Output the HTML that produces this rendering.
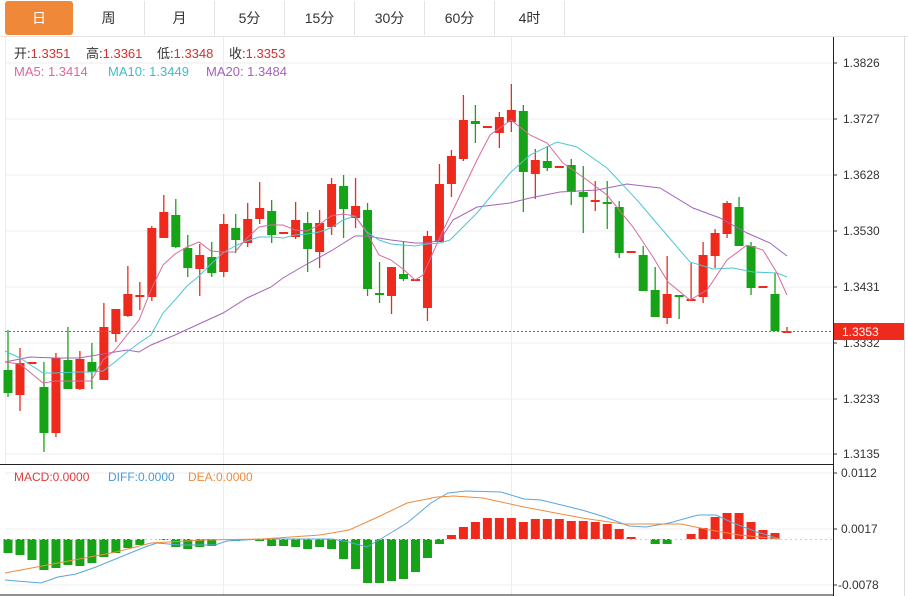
<!DOCTYPE html>
<html><head><meta charset="utf-8">
<style>
body{margin:0;background:#fff;width:908px;height:596px;overflow:hidden;font-family:"Liberation Sans","Noto Sans CJK SC",sans-serif;}
#tabs{position:absolute;left:0;top:0;height:36px;width:908px;}
.tab{position:absolute;top:1px;height:34px;line-height:34px;text-align:center;font-size:14px;color:#333;border-right:1px solid #e3e3e3;box-sizing:border-box}
.on{background:#f0883a;color:#fff;border-radius:3px;border:none}
svg{position:absolute;left:0;top:0}
</style></head><body>
<div id="tabs">
<div class="tab on" style="left:5px;width:68px">日</div>
<div class="tab" style="left:73px;width:72px">周</div>
<div class="tab" style="left:145px;width:70px">月</div>
<div class="tab" style="left:215px;width:70px">5分</div>
<div class="tab" style="left:285px;width:70px">15分</div>
<div class="tab" style="left:355px;width:70px">30分</div>
<div class="tab" style="left:425px;width:70px">60分</div>
<div class="tab" style="left:495px;width:70px">4时</div>
</div>
<svg id="s" width="908" height="596" xmlns="http://www.w3.org/2000/svg" font-family="Liberation Sans, Noto Sans CJK SC, sans-serif">
<line x1="0" y1="36.5" x2="908" y2="36.5" stroke="#e3e3e3"/>
<line x1="904.5" y1="36" x2="904.5" y2="596" stroke="#ddd"/>
<g stroke="#ececec">
<line x1="5" y1="63" x2="833" y2="63"/><line x1="5" y1="119" x2="833" y2="119"/><line x1="5" y1="175" x2="833" y2="175"/><line x1="5" y1="231" x2="833" y2="231"/><line x1="5" y1="287" x2="833" y2="287"/><line x1="5" y1="343" x2="833" y2="343"/><line x1="5" y1="399" x2="833" y2="399"/><line x1="5" y1="454" x2="833" y2="454"/>
<line x1="5" y1="473" x2="833" y2="473"/><line x1="5" y1="529" x2="833" y2="529"/><line x1="5" y1="585" x2="833" y2="585"/>
<line x1="223.5" y1="37" x2="223.5" y2="595"/><line x1="511.5" y1="37" x2="511.5" y2="595"/>
<line x1="5.5" y1="37" x2="5.5" y2="465"/>
</g>
<g id="c"></g>
<g id="m"></g>
<line x1="5" y1="331.5" x2="833" y2="331.5" stroke="#e8463c" stroke-dasharray="2,2"/>
<polyline fill="none" stroke="#a463ba" stroke-width="1" points="5,362 30,357 55,358 79,358 103,354 127,350 139,352 151,345 175,335 199,324 223,313 247,298 271,287 283,278 307,264 331,251 355,236 367,236 391,240 415,243 427,243 440,240 453,220 477,207 510,203 530,198 560,192 597,190 627,184 660,188 693,208 720,218 747,233 770,243 787,256"/>
<polyline fill="none" stroke="#4fc6d4" stroke-width="1" points="5,351 20,358 43,373 55,373 79,372 91,372 103,371 115,362 127,352 139,343 151,335 163,313 175,300 187,286 199,276 211,264 223,253 235,246 247,241 259,237 271,237 283,238 295,235 307,234 319,232 331,228 343,220 355,216 367,232 379,240 391,244 403,245 415,246 427,244 440,243 450,240 477,213 510,173 530,155 557,142 577,147 607,168 637,200 660,227 690,262 713,269 733,268 753,272 777,273 787,277"/>
<polyline fill="none" stroke="#d9699e" stroke-width="1" points="5,362 20,364 43,383 55,381 79,381 91,381 103,360 115,350 127,335 139,320 151,290 163,265 175,254 187,247 199,242 211,251 223,252 235,252 247,238 259,227 271,225 283,225 295,230 307,231 319,225 331,216 343,214 355,216 367,233 379,255 391,260 403,269 415,280 423,275 440,237 453,210 477,160 490,135 511,120 530,135 547,143 563,163 587,180 607,195 633,227 653,257 668,282 690,300 707,290 727,260 747,245 763,250 777,273 787,295"/>
<line x1="5" y1="539.5" x2="833" y2="539.5" stroke="#ccd" stroke-dasharray="2,3"/>
<polyline fill="none" stroke="#5aa6dc" points="5,580 41,583 58,577 76,574 96,567 145,547 157,543 180,545 215,545 227,541 262,539 332,539 349,542 367,547 384,537 407,523 431,503 448,493 466,491 501,492 524,499 541,500 582,510 605,517 629,526 646,527 669,523 698,515 716,515 733,523 757,532 780,539"/>
<polyline fill="none" stroke="#f08a3c" points="5,573 58,563 116,552 151,543 204,540 262,539 320,535 349,530 378,517 407,503 437,497 454,496 483,498 524,507 582,518 623,524 681,524 710,530 739,535 780,539"/>
<line x1="0" y1="464.5" x2="833" y2="464.5" stroke="#222"/>
<line x1="0" y1="595" x2="833" y2="595" stroke="#222"/>
<line x1="833.5" y1="37" x2="833.5" y2="596" stroke="#222"/>
<g font-size="12" fill="#333">
<text x="843" y="67">1.3826</text><text x="843" y="123">1.3727</text><text x="843" y="179">1.3628</text><text x="843" y="235">1.3530</text><text x="843" y="291">1.3431</text><text x="843" y="347">1.3332</text><text x="843" y="403">1.3233</text><text x="843" y="458">1.3135</text>
<text x="841" y="477">0.0112</text><text x="841" y="533">0.0017</text><text x="838" y="589">-0.0078</text>
</g>
<g stroke="#333"><line x1="833" y1="63" x2="837" y2="63"/><line x1="833" y1="119" x2="837" y2="119"/><line x1="833" y1="175" x2="837" y2="175"/><line x1="833" y1="231" x2="837" y2="231"/><line x1="833" y1="287" x2="837" y2="287"/><line x1="833" y1="343" x2="837" y2="343"/><line x1="833" y1="399" x2="837" y2="399"/><line x1="833" y1="454" x2="837" y2="454"/><line x1="833" y1="473" x2="837" y2="473"/><line x1="833" y1="529" x2="837" y2="529"/><line x1="833" y1="585" x2="837" y2="585"/></g>
<rect x="834" y="323" width="70" height="17" fill="#ee2a1c"/>
<text x="842" y="336" font-size="12" fill="#fff">1.3353</text>
<g font-size="13">
<text x="14" y="58" fill="#333">开:<tspan fill="#d43030">1.3351</tspan></text>
<text x="86" y="58" fill="#333">高:<tspan fill="#d43030">1.3361</tspan></text>
<text x="157" y="58" fill="#333">低:<tspan fill="#d43030">1.3348</tspan></text>
<text x="229" y="58" fill="#333">收:<tspan fill="#d43030">1.3353</tspan></text>
<text x="14" y="76" fill="#d9699e">MA5: 1.3414</text>
<text x="108" y="76" fill="#3fbccb">MA10: 1.3449</text>
<text x="206" y="76" fill="#a463ba">MA20: 1.3484</text>
<text x="14" y="481" fill="#e03c3c" font-size="12">MACD:0.0000</text>
<text x="108" y="481" fill="#4a9ad8" font-size="12">DIFF:0.0000</text>
<text x="188" y="481" fill="#f08a3c" font-size="12">DEA:0.0000</text>
</g>
</svg>
<script>
var K=[["g",370,393,330,397],["r",363,395,348,411],["r",362,364,362,364],["g",387,433,362,452],["r",358,433,353,437],["g",360,389,327,389],["r",359,389,351,390],["g",362,372,343,389],["r",327,380,303,380],["r",309,334,309,342],["r",294,316,266,317],["r",295,297,282,310],["r",228,297,226,301],["r",212,238,195,238],["g",215,247,199,248],["g",248,268,235,277],["r",255,269,244,296],["g",257,273,242,277],["r",224,272,214,277],["g",228,240,214,253],["r",219,243,203,247],["r",208,219,182,224],["g",211,235,200,243],["r",232,234,232,234],["r",220,237,202,239],["g",223,249,212,272],["r",223,252,210,268],["r",184,227,178,235],["g",186,209,175,238],["r",206,218,178,228],["g",210,289,203,296],["g",293,295,262,303],["r",267,296,267,314],["g",274,279,242,281],["r",279,281,279,281],["r",236,308,231,321],["r",184,242,164,242],["r",156,184,150,197],["r",120,159,95,161],["g",121,124,105,143],["r",126,128,126,128],["r",117,133,112,148],["r",110,122,84,132],["g",111,172,105,212],["r",160,174,149,199],["g",161,168,146,171],["r",166,168,166,168],["g",165,192,159,205],["g",192,197,166,233],["r",200,202,181,211],["g",202,204,181,229],["g",207,253,201,258],["r",251,253,251,253],["g",255,291,246,291],["g",290,317,267,317],["r",294,318,256,324],["g",295,297,295,319],["r",299,301,263,301],["r",255,297,242,303],["r",233,256,229,268],["r",203,234,201,238],["g",207,246,197,246],["g",246,288,242,295],["r",286,288,286,288],["g",294,331,273,331],["r",331,333,327,333]];
var M=[14,16,21,31,29,26,27,24,18,14,9,6,0,1,8,10,8,7,0,2,0,2,7,7,8,10,8,10,20,30,44,44,42,40,33,19,5,-4,-12,-17,-21,-21,-21,-17,-20,-20,-20,-18,-18,-17,-15,-10,-2,0,5,5,0,-5,-11,-22,-26,-26,-17,-9,-6,0,0];
var S=(787-8)/(K.length-1);
var c=document.getElementById("c"),m=document.getElementById("m"),h="";
for(var i=0;i<K.length;i++){var k=K[i],x=8+i*S,col=k[0]=="r"?"#ee2a1c":"#17a317";
h+='<line x1="'+x+'" x2="'+x+'" y1="'+k[3]+'" y2="'+k[4]+'" stroke="'+col+'" stroke-width="1.3"/>';
h+='<rect x="'+(x-4.5)+'" y="'+k[1]+'" width="9" height="'+Math.max(2,k[2]-k[1])+'" fill="'+col+'"/>';}
c.innerHTML=h;h="";
for(var i=0;i<M.length;i++){var v=M[i],x=8+i*S;if(v==0)continue;var col=v<0?"#ee2a1c":"#17a317";
h+='<rect x="'+(x-4.5)+'" y="'+(v<0?539+v:539)+'" width="9" height="'+Math.abs(v)+'" fill="'+col+'"/>';}
m.innerHTML=h;
</script>
</body></html>
